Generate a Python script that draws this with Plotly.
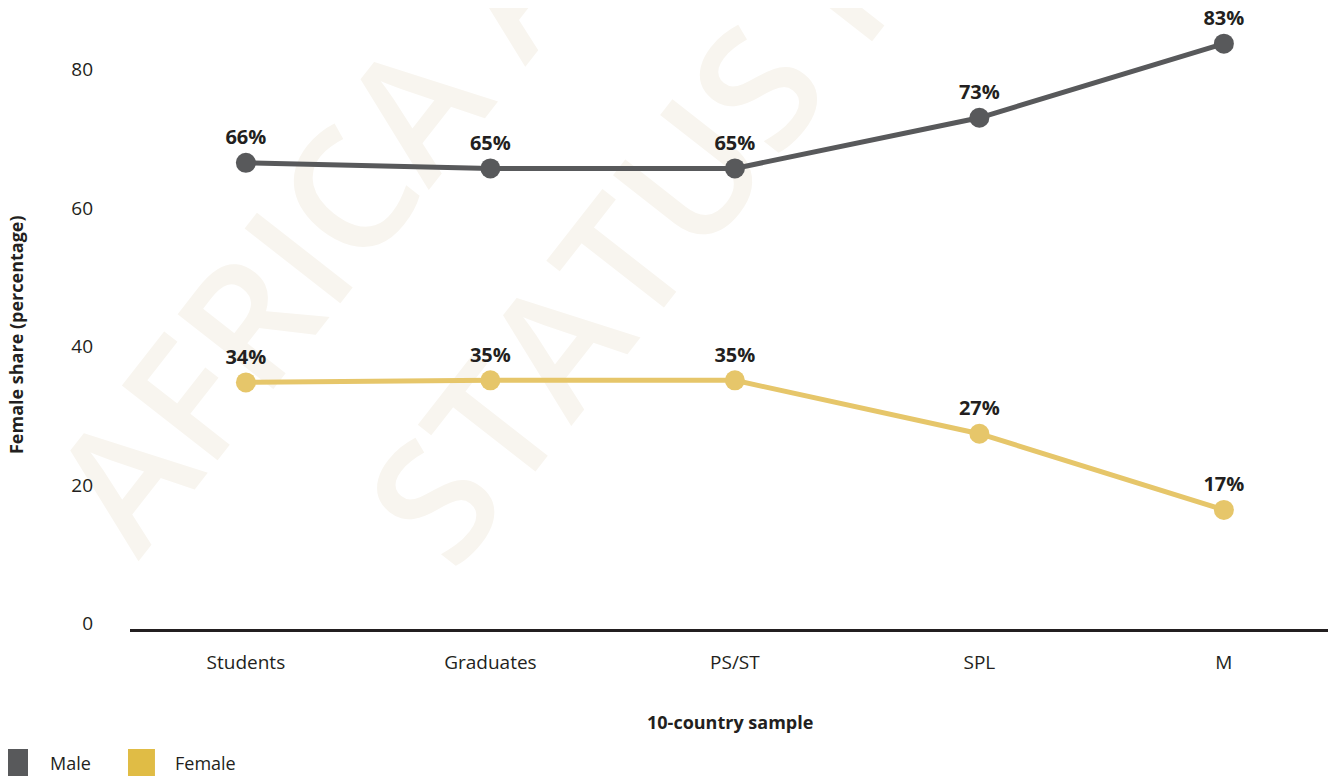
import plotly.graph_objects as go

categories = ["Students", "Graduates", "PS/ST", "SPL", "M"]
male_values = [66.5, 65.7, 65.7, 73.0, 83.7]
female_values = [34.8, 35.1, 35.1, 27.4, 16.4]
male_labels = ["66%", "65%", "65%", "73%", "83%"]
female_labels = ["34%", "35%", "35%", "27%", "17%"]
y_ticks = [0, 20, 40, 60, 80]

MALE = "#58595b"
FEMALE_LINE = "#e6c66a"
FEMALE_KEY = "#e0bc45"
TEXT = "#231f20"
WM = "#f8f5ef"
FONT = "Open Sans"

xs = list(range(len(categories)))

fig = go.Figure()
fig.add_trace(go.Scatter(
    x=xs, y=male_values, mode="lines+markers+text", name="Male",
    line=dict(color=MALE, width=5), marker=dict(color=MALE, size=20),
    text=male_labels, textposition="top center",
    textfont=dict(family=FONT, size=20, color=TEXT, weight="bold"),
    cliponaxis=False, showlegend=False, hoverinfo="skip"))
fig.add_trace(go.Scatter(
    x=xs, y=female_values, mode="lines+markers+text", name="Female",
    line=dict(color=FEMALE_LINE, width=5), marker=dict(color=FEMALE_LINE, size=20),
    text=female_labels, textposition="top center",
    textfont=dict(family=FONT, size=20, color=TEXT, weight="bold"),
    cliponaxis=False, showlegend=False, hoverinfo="skip"))

# watermark
for txt, x0, y0, x1, y1 in [("AFRICA AGRICULTURE", -0.0283, 0.1626, 0.7417, 2.066),
                            ("STATUS REPORT", 0.235, 0.1401, 1.005, 2.0435)]:
    fig.add_shape(type="line", xref="paper", yref="paper", x0=x0, y0=y0, x1=x1, y1=y1,
                  layer="below", line=dict(color="rgba(0,0,0,0)", width=1),
                  label=dict(text=txt, textposition="start", xanchor="left", yanchor="middle",
                             padding=0,
                             font=dict(family=FONT, size=170, color=WM, weight=600)))

# legend keys
for name, color, sx0, sx1, tx in [("Male", MALE, -0.1075, -0.085, -0.0683),
                                  ("Female", FEMALE_KEY, -0.00167, 0.0208, 0.0358)]:
    fig.add_shape(type="rect", xref="paper", yref="paper", x0=sx0, x1=sx1, y0=-0.1932, y1=-0.2383,
                  fillcolor=color, line=dict(width=0))
    fig.add_annotation(text=name, xref="paper", yref="paper", x=tx, y=-0.2158,
                       xanchor="left", yanchor="middle", showarrow=False,
                       font=dict(family=FONT, size=18, color=TEXT))

fig.add_annotation(text="10-country sample", xref="paper", yref="paper", x=0.5, y=-0.1498,
                   xanchor="center", yanchor="middle", showarrow=False,
                   font=dict(family=FONT, size=18, color=TEXT, weight="bold"))
fig.add_annotation(text="Female share (percentage)", xref="paper", yref="paper", x=-0.095, y=0.4734,
                   xanchor="center", yanchor="middle", showarrow=False, textangle=-90,
                   font=dict(family=FONT, size=18, color=TEXT, weight="bold"))

fig.update_xaxes(range=[-0.474, 4.434], tickvals=xs, ticktext=categories,
                 showgrid=False, zeroline=False, showline=True, linecolor=TEXT, linewidth=2.5,
                 ticks="", ticklabelstandoff=14,
                 tickfont=dict(family=FONT, size=19, color=TEXT))
fig.update_yaxes(range=[-0.79, 88.85], tickvals=y_ticks, showgrid=False, zeroline=False,
                 showline=False, ticks="", ticklabelstandoff=36,
                 tickfont=dict(family=FONT, size=19, color=TEXT))

fig.update_layout(width=1328, height=768, margin=dict(l=122, r=6, t=0, b=147),
                  paper_bgcolor="white", plot_bgcolor="white", showlegend=False,
                  font=dict(family=FONT, color=TEXT))

fig.write_html("out.html")
